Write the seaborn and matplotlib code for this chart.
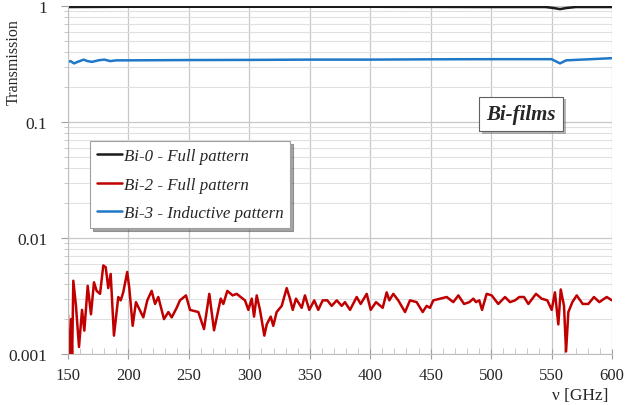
import numpy as np
import pandas as pd
import matplotlib
matplotlib.use("Agg")
import matplotlib.pyplot as plt
import matplotlib.ticker as mticker
import matplotlib.patheffects as pe
import seaborn as sns

# --- data (frequency in GHz, transmission) ---
bi0_freq = [150, 200, 300, 400, 500, 545, 552, 557, 562, 570, 600]
bi0_trans = [0.98, 0.985, 0.985, 0.985, 0.98, 0.98, 0.96, 0.94, 0.96, 0.98, 0.98]

bi3_freq = [150, 152, 155, 158, 163, 166, 170, 175, 180, 185, 190, 200, 250,
            300, 350, 400, 450, 500, 550, 557, 562, 600]
bi3_trans = [0.33, 0.335, 0.32, 0.33, 0.345, 0.335, 0.33, 0.34, 0.345, 0.335,
             0.34, 0.34, 0.342, 0.343, 0.345, 0.345, 0.347, 0.348, 0.348,
             0.32, 0.34, 0.355]

bi2_freq = [150.0, 150.8, 151.8, 152.6, 153.4, 154.4, 156.6, 159.1, 161.6, 163.5,
            166.3, 169.0, 171.5, 173.7, 176.5, 179.2, 181.2, 183.3, 185.3, 188.0,
            191.6, 193.6, 195.7, 199.0, 200.7, 203.5, 206.2, 209.6, 212.3, 215.6,
            219.2, 222.0, 224.7, 229.4, 233.0, 235.8, 239.9, 242.6, 247.6, 250.9,
            257.8, 262.5, 266.9, 270.8, 276.3, 278.5, 281.8, 286.2, 289.5, 292.9,
            296.4, 299.2, 302.0, 303.9, 306.1, 308.8, 312.4, 314.4, 317.7, 319.8,
            322.6, 326.8, 330.9, 333.6, 335.9, 338.6, 343.3, 346.0, 349.6, 353.7,
            357.0, 360.7, 364.5, 368.1, 372.3, 376.4, 379.1, 383.3, 388.8, 392.1,
            397.1, 400.4, 404.8, 410.3, 413.6, 415.8, 419.1, 423.2, 428.8, 432.9,
            438.4, 443.4, 446.7, 449.4, 452.2, 457.7, 463.3, 468.7, 472.9, 477.6,
            482.0, 485.3, 487.5, 490.2, 492.5, 496.3, 500.5, 505.9, 511.5, 515.6,
            519.8, 523.3, 527.2, 530.8, 537.1, 541.8, 546.5, 550.1, 552.8, 555.6,
            557.6, 560.3, 562.0, 563.9, 567.2, 570.8, 575.8, 580.4, 585.1, 589.5,
            595.6, 600.0]
bi2_trans = [0.00217, 0.00090, 0.00090, 0.00200, 0.00090, 0.00428, 0.00260, 0.00115, 0.00240, 0.00159,
             0.00387, 0.00220, 0.00415, 0.00350, 0.00330, 0.00580, 0.00560, 0.00370, 0.00490, 0.00144,
             0.00310, 0.00290, 0.00340, 0.00510, 0.00370, 0.00175, 0.00280, 0.00236, 0.00207, 0.00290,
             0.00350, 0.00270, 0.00310, 0.00200, 0.00230, 0.00207, 0.00250, 0.00290, 0.00320, 0.00240,
             0.00230, 0.00164, 0.00330, 0.00160, 0.00300, 0.00270, 0.00350, 0.00320, 0.00330, 0.00310,
             0.00290, 0.00240, 0.00300, 0.00210, 0.00320, 0.00240, 0.00144, 0.00180, 0.00210, 0.00175,
             0.00230, 0.00260, 0.00370, 0.00300, 0.00240, 0.00300, 0.00250, 0.00320, 0.00240, 0.00290,
             0.00240, 0.00290, 0.00290, 0.00260, 0.00290, 0.00260, 0.00280, 0.00240, 0.00310, 0.00270,
             0.00330, 0.00240, 0.00280, 0.00250, 0.00340, 0.00290, 0.00330, 0.00290, 0.00230, 0.00290,
             0.00280, 0.00230, 0.00260, 0.00250, 0.00290, 0.00300, 0.00310, 0.00280, 0.00320, 0.00270,
             0.00280, 0.00300, 0.00280, 0.00290, 0.00240, 0.00330, 0.00320, 0.00270, 0.00310, 0.00280,
             0.00290, 0.00310, 0.00310, 0.00270, 0.00330, 0.00300, 0.00290, 0.00240, 0.00340, 0.00180,
             0.00360, 0.00260, 0.00105, 0.00230, 0.00280, 0.00320, 0.00270, 0.00270, 0.00310, 0.00280,
             0.00310, 0.00290]

labels = ["Bi-0 - Full pattern", "Bi-2 - Full pattern", "Bi-3 - Inductive pattern"]
colors = ["#1a1a1a", "#c00000", "#1f78c8"]

sns.set_style("white")
plt.rcParams["font.family"] = ["Liberation Serif", "DejaVu Serif"]

fig = plt.figure(figsize=(6.28, 4.06), dpi=100)
ax = fig.add_axes([68 / 628, 1 - 355 / 406, 544 / 628, 348 / 406])

series = [(bi0_freq, bi0_trans), (bi2_freq, bi2_trans), (bi3_freq, bi3_trans)]
for (f, t), lab, c in zip(series, labels, colors):
    sns.lineplot(x=f, y=t, ax=ax, color=c, label=lab, lw=1.8,
                 estimator=None, sort=False)

ax.set_yscale("log")
ax.set_xlim(150, 600)
ax.set_ylim(0.001, 1)
ax.set_xticks(np.arange(150, 601, 50))
ax.xaxis.set_minor_locator(mticker.MultipleLocator(10))
ax.yaxis.set_major_locator(mticker.FixedLocator([0.001, 0.01, 0.1, 1]))
ax.yaxis.set_major_formatter(mticker.FuncFormatter(lambda v, p: "%g" % v))
ax.yaxis.set_minor_locator(mticker.LogLocator(base=10, subs=np.arange(2, 10)))
ax.yaxis.set_minor_formatter(mticker.NullFormatter())

ax.grid(which="major", axis="both", color="#c8c8c8", lw=0.9)
ax.grid(which="minor", axis="y", color="#e0e0e0", lw=0.8)
ax.set_axisbelow(True)

for s in ["top", "right"]:
    ax.spines[s].set_visible(False)
for s in ["bottom", "left"]:
    ax.spines[s].set_color("#bfbfbf")
ax.tick_params(axis="y", which="major", direction="out", length=5,
               color="#a0a0a0", left=True, labelsize=12.5, pad=10)
ax.tick_params(axis="y", which="minor", direction="out", length=3,
               color="#c0c0c0", left=True)
ax.tick_params(axis="x", which="major", direction="inout", length=7,
               color="#a0a0a0", bottom=True, labelsize=12, pad=6)
ax.tick_params(axis="x", which="minor", direction="in", length=4,
               color="#bfbfbf", bottom=True)

ax.set_xlabel("ν [GHz]", fontsize=12.5, loc="right", labelpad=4)
ax.xaxis.set_label_coords(0.993, -0.095)
ax.set_ylabel("Transmission", fontsize=11.5)
ax.yaxis.set_label_coords(-0.085, 0.842)

leg = ax.legend(loc="upper left", bbox_to_anchor=(0.040, 0.612),
                borderaxespad=0, frameon=True, fancybox=False, shadow=True,
                prop={"style": "italic", "size": 12.2}, handlelength=1.5,
                handletextpad=0.1, labelspacing=0.75, borderpad=0.4)
leg.get_frame().set_edgecolor("#a0a0a0")
leg.get_frame().set_linewidth(0.8)

t = ax.text(0.833, 0.69, "Bi-films", transform=ax.transAxes, ha="center",
            va="center", fontsize=15, fontweight="bold", fontstyle="italic",
            bbox=dict(boxstyle="square,pad=0.35", fc="white", ec="#606060",
                      lw=0.8))
t.get_bbox_patch().set_path_effects([pe.withSimplePatchShadow(offset=(2, -2),
                                                              alpha=0.4)])

fig.savefig("out.png", dpi=100)
